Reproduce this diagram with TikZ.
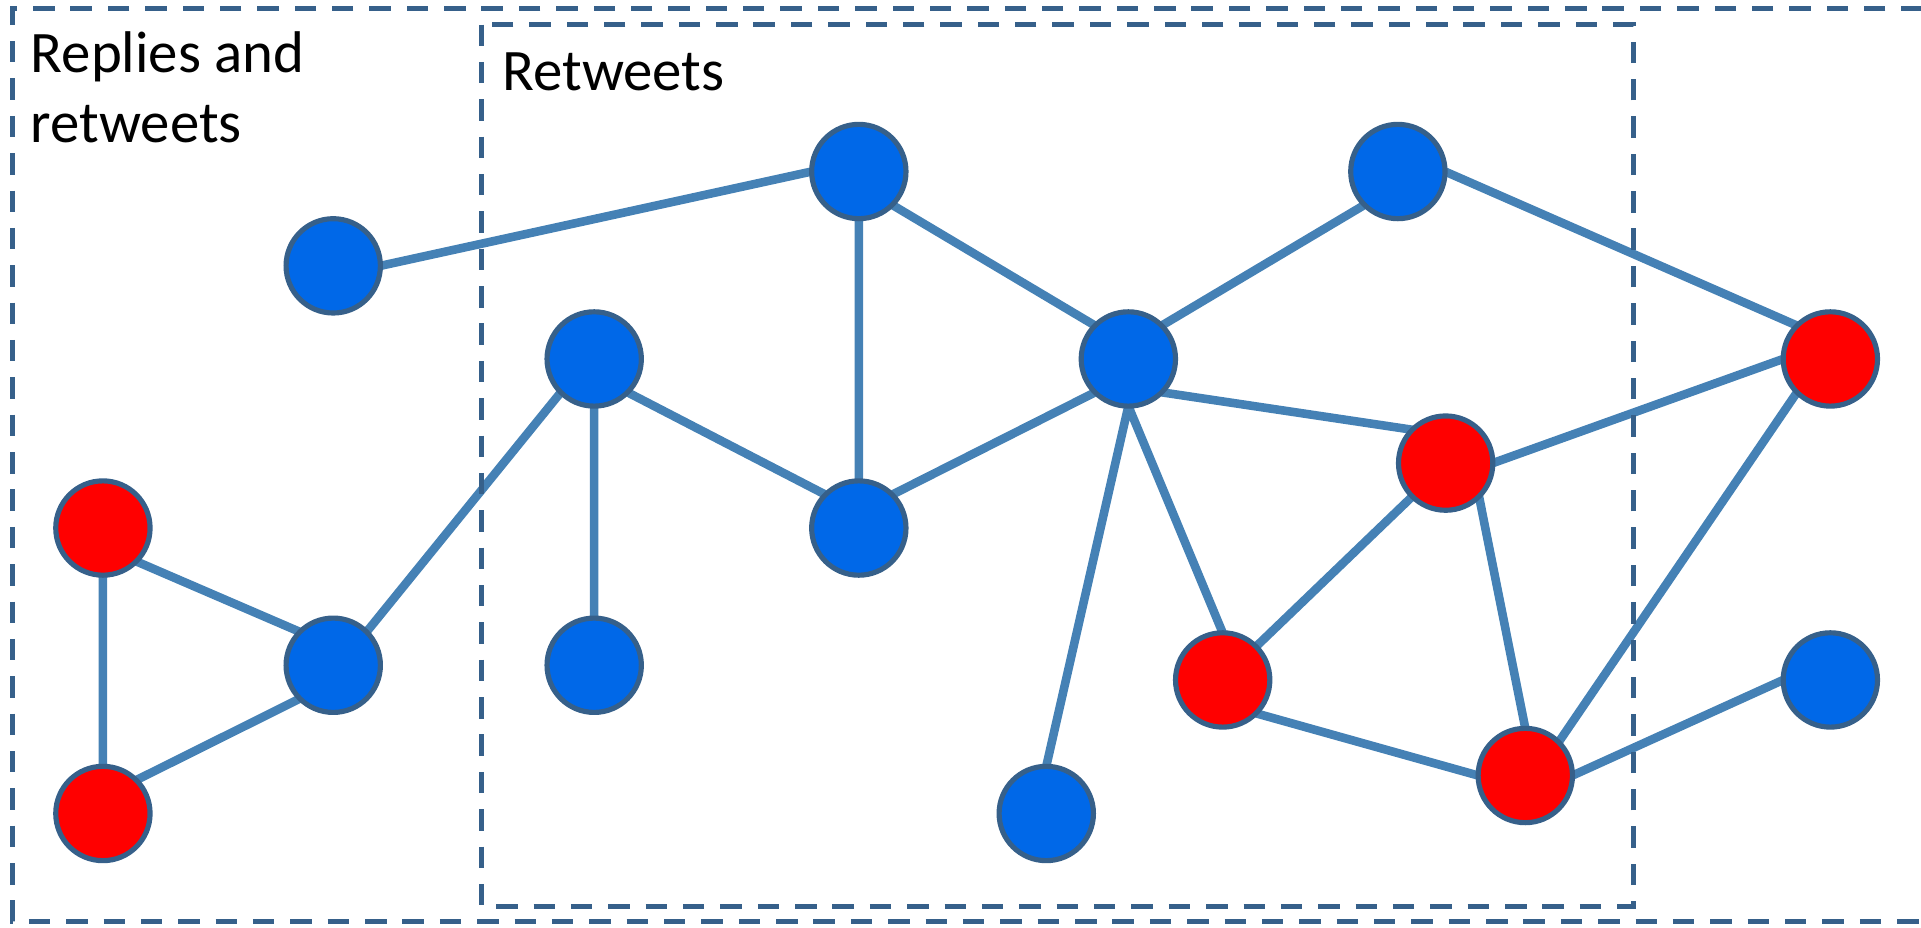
\documentclass[tikz,border=0pt]{standalone}
\usepackage{fontspec}
\setmainfont{Carlito}
\usetikzlibrary{backgrounds}
\definecolor{nodeblue}{HTML}{0068E8}
\definecolor{nodered}{HTML}{FF0000}
\definecolor{rim}{HTML}{36608A}
\definecolor{edgec}{HTML}{4581B5}
\definecolor{frame}{HTML}{36608A}
\tikzset{
  vb/.style={circle, draw=rim, line width=4.2pt, fill=nodeblue, minimum size=77pt, inner sep=0pt, outer sep=0pt},
  vr/.style={vb, fill=nodered},
  edg/.style={draw=edgec, line width=7pt},
  box/.style={draw=frame, line width=4.2pt, dash pattern=on 17.5pt off 13pt},
  lbl/.style={anchor=base west, inner sep=0pt, align=left, font=\fontsize{48}{57}\selectfont}
}
\begin{document}
\begin{tikzpicture}[x=1pt,y=-1pt]
\useasboundingbox (0,0) rectangle (1568,757);
\draw[box] (1600,7) -- (10,7) -- (10,752) -- (1600,752);
\draw[box] (393,20) rectangle (1333,740);
\node[lbl] (t1) at (25,116) {Replies and\\retweets};
\node[lbl] (t2) at (410,74) {Retweets};
\node[vb] (A) at (272,217) {};
\node[vb] (B) at (701,140) {};
\node[vb] (C) at (1141,140) {};
\node[vb] (D) at (485,293) {};
\node[vb] (E) at (921,293) {};
\node[vr] (F) at (1494,293) {};
\node[vr] (G) at (1180,378) {};
\node[vr] (H) at (84,431) {};
\node[vb] (I) at (701,431) {};
\node[vb] (J) at (272,543) {};
\node[vb] (K) at (485,543) {};
\node[vr] (L) at (998,555) {};
\node[vb] (M) at (1494,555) {};
\node[vr] (N) at (84,664) {};
\node[vb] (O) at (854,664) {};
\node[vr] (P) at (1245,633) {};
\begin{scope}[on background layer]
\path[edg]
  (A.east) -- (B.west)
  (B.south) -- (I.north)
  (B.south east) -- (E.north west)
  (C.south west) -- (E.north east)
  (C.east) -- (F.north west)
  (D.south east) -- (I.north west)
  (D.south) -- (K.north)
  (D.south west) -- (J.north east)
  (E.south west) -- (I.north east)
  (E.south east) -- (G.north west)
  (E.south) -- (L.north)
  (E.south) -- (O.north)
  (F.west) -- (G.east)
  (F.south west) -- (P.north east)
  (G.south west) -- (L.north east)
  (G.south east) -- (P.north)
  (L.south east) -- (P.west)
  (P.east) -- (M.west)
  (H.south east) -- (J.north west)
  (H.south) -- (N.north)
  (N.north east) -- (J.south west);
\end{scope}
\end{tikzpicture}
\end{document}
